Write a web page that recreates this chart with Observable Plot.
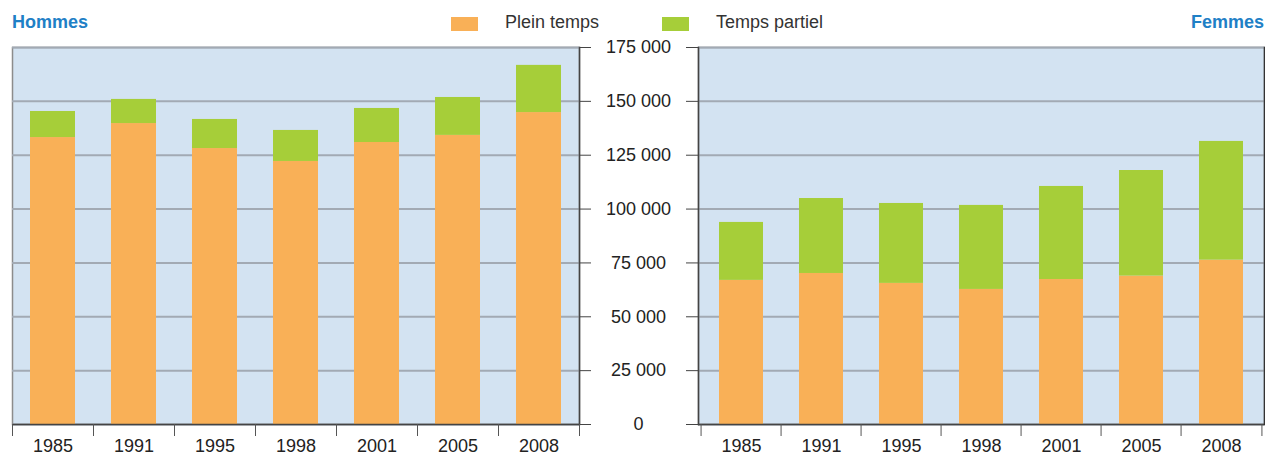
<!DOCTYPE html>
<html>
<head>
<meta charset="utf-8">
<script src="https://cdn.jsdelivr.net/npm/d3@7"></script>
<script src="https://cdn.jsdelivr.net/npm/@observablehq/plot@0.6"></script>
<style>
  body { margin: 0; background: #fff; font-family: "Liberation Sans", Arial, sans-serif; }
  #wrap { position: relative; width: 1265px; height: 456px; overflow: hidden; }
  .title { position: absolute; top: 12px; font-weight: bold; font-size: 18px; color: #1f80c6; }
  .leg { position: absolute; top: 12px; font-size: 18px; color: #333; }
  .sw { position: absolute; top: 17px; width: 27px; height: 14px; }
  svg { position: absolute; top: 36px; }
</style>
</head>
<body>
<div id="wrap"></div>
<script>
const years = ["1985", "1991", "1995", "1998", "2001", "2005", "2008"];
const series = ["Plein temps", "Temps partiel"];
const colors = ["#f9b057", "#a6ce39"];
const hommesPlein   = [133200, 139700, 128100, 122100, 130900, 134200, 144800];
const hommesPartiel = [12100, 11200, 13500, 14400, 15800, 17600, 21900];
const femmesPlein   = [66900, 70100, 65500, 62700, 67300, 68900, 76300];
const femmesPartiel = [26900, 34800, 37100, 39000, 43200, 49000, 55100];
const yTicks = [0, 25000, 50000, 75000, 100000, 125000, 150000, 175000];
const panelTitles = ["Hommes", "Femmes"];

const fmt = d3.formatLocale({thousands: " ", grouping: [3], decimal: ",", currency: ["", ""]}).format(",");
const font = "Liberation Sans, Arial, sans-serif";

function rows(plein, partiel) {
  const out = [];
  years.forEach((y, i) => {
    out.push({year: y, type: series[0], value: plein[i]});
    out.push({year: y, type: series[1], value: partiel[i]});
  });
  return out;
}

const H = 420, mt = 11, mb = 32;

function panel({data, width, ml, mr, side}) {
  const bw = (width - ml - mr) / years.length;
  const marks = [
    Plot.frame({fill: "#d3e3f2", stroke: "#8c8c8c", strokeWidth: 1.5}),
    Plot.gridY(yTicks, {stroke: "#a2aab4", strokeOpacity: 1, strokeWidth: 2}),
    Plot.barY(data, {x: "year", y: "value", fill: "type", insetLeft: 18, insetRight: 18}),
    Plot.ruleY([0], {stroke: "#444", strokeWidth: 1.5}),
    Plot.frame({anchor: side, stroke: "#444", strokeWidth: 1.5}),
    Plot.axisX({tickSize: 0, tickPadding: 15, fontSize: 18, fill: "#222", label: null}),
    Plot.axisX(years, {tickSize: 12, fill: "none", text: null, label: null, dx: -bw / 2, stroke: "#555"}),
    Plot.axisX([years[years.length - 1]], {tickSize: 12, fill: "none", text: null, label: null, dx: bw / 2, stroke: "#555"})
  ];
  if (side === "right") {
    marks.push(Plot.axisY(yTicks, {anchor: "right", tickSize: 11, tickPadding: 48, textAnchor: "middle",
      tickFormat: fmt, fontSize: 18, fill: "#222", stroke: "#444", label: null}));
  } else {
    marks.push(Plot.axisY(yTicks, {anchor: "left", tickSize: 12, fill: "none", text: null, label: null, stroke: "#444"}));
    marks.push(Plot.frame({anchor: "right", stroke: "#333", strokeWidth: 1.5}));
  }
  return Plot.plot({
    width, height: H,
    marginTop: mt, marginBottom: mb, marginLeft: ml, marginRight: mr,
    style: {fontFamily: font, background: "transparent", overflow: "visible"},
    x: {domain: years, padding: 0, axis: null, label: null},
    y: {domain: [0, 175000], axis: null, label: null},
    color: {domain: series, range: colors},
    marks
  });
}

const wrap = document.getElementById("wrap");
const left = panel({data: rows(hommesPlein, hommesPartiel), width: 640, ml: 12, mr: 61, side: "right"});
left.style.left = "0px";
const right = panel({data: rows(femmesPlein, femmesPartiel), width: 625, ml: 58, mr: 1, side: "left"});
right.style.left = "640px";
wrap.appendChild(left);
wrap.appendChild(right);

function addDiv(cls, text, style) {
  const d = document.createElement("div");
  d.className = cls;
  if (text) d.textContent = text;
  Object.assign(d.style, style);
  wrap.appendChild(d);
}
addDiv("title", panelTitles[0], {left: "12px"});
addDiv("title", panelTitles[1], {right: "1px"});
addDiv("sw", "", {left: "451px", background: colors[0]});
addDiv("leg", series[0], {left: "505px"});
addDiv("sw", "", {left: "662px", background: colors[1]});
addDiv("leg", series[1], {left: "716px"});
</script>
</body>
</html>
